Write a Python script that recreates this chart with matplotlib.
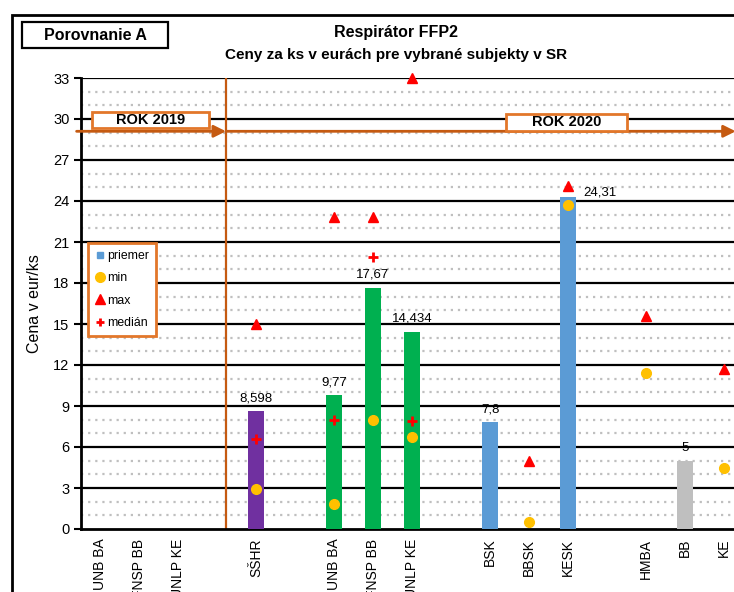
import numpy as np
import matplotlib.pyplot as plt
from matplotlib.patches import Rectangle
from matplotlib.lines import Line2D

plt.rcParams['font.family'] = ['Liberation Sans', 'DejaVu Sans']

categories = ["UNB BA", "FNSP BB", "UNLP KE", "", "SŠHR", "", "UNB BA", "FNSP BB", "UNLP KE", "",
              "BSK", "BBSK", "KESK", "", "HMBA", "BB", "KE"]
nan = np.nan
priemer = [nan, nan, nan, nan, 8.598, nan, 9.77, 17.67, 14.434, nan, 7.8, nan, 24.31, nan, nan, 5, nan]
minimum = [nan, nan, nan, nan, 2.9, nan, 1.8, 8.0, 6.7, nan, nan, 0.5, 23.7, nan, 11.4, nan, 4.5]
maximum = [nan, nan, nan, nan, 15.0, nan, 22.8, 22.8, 33.0, nan, nan, 5.0, 25.1, nan, 15.6, nan, 11.7]
median = [nan, nan, nan, nan, 6.6, nan, 8.0, 19.9, 7.9, nan, nan, nan, nan, nan, nan, nan, nan]
bar_colors = ["#5B9BD5"] * 4 + ["#7030A0"] + ["#5B9BD5"] + ["#00B050"] * 3 + ["#5B9BD5"] * 6 + ["#BFBFBF", "#5B9BD5"]

orange = "#C55A11"
orange_box = "#E2772A"

fig = plt.figure(figsize=(7.34, 5.92), dpi=100)
ax = fig.add_axes([80.5 / 734, 63 / 592, 702 / 734, 451 / 592])
x = np.arange(len(categories))

# grid
for yv in range(1, 34):
    if yv % 3 == 0:
        ax.axhline(yv, color="black", lw=1.6, zorder=1)
    else:
        ax.axhline(yv, color="#BFBFBF", lw=1.6, ls=(0, (1, 2.2)), zorder=1)

vals = np.array(priemer, dtype=float)
ax.bar(x, np.nan_to_num(vals), width=0.42, color=bar_colors, zorder=3)
for i, v in enumerate(vals):
    if np.isnan(v):
        continue
    lab = f"{v:g}".replace(".", ",")
    if categories[i] == "KESK":
        ax.text(i + 0.38, v + 0.3, lab, ha="left", va="center", fontsize=9.5, zorder=5)
    else:
        ax.annotate(lab, (i, v), xytext=(0, 5), textcoords="offset points",
                    ha="center", va="bottom", fontsize=9.5, zorder=5)

ax.plot(x, minimum, "o", color="#FFC000", ms=7, zorder=4, clip_on=False)
ax.plot(x, maximum, "^", color="#FF0000", ms=7, zorder=4, clip_on=False)
ax.plot(x, median, "+", color="#FF0000", ms=7, mew=2, zorder=4)

ax.set_xlim(-0.5, 17.5)
ax.set_ylim(0, 33)
ax.set_yticks(range(0, 34, 3))
ax.set_xticks(x)
ax.set_xticklabels(categories, rotation=90, fontsize=10)
ax.tick_params(axis="x", length=0, pad=7)
ax.tick_params(axis="y", length=5, width=1.5, labelsize=10.5, pad=3)
for s in ["top", "right"]:
    ax.spines[s].set_visible(False)
ax.spines["left"].set_linewidth(2)
ax.spines["bottom"].set_linewidth(2)
ax.set_ylabel("Cena v eur/ks", fontsize=11.5, labelpad=8)

# year separator and arrows
ax.plot([3.23, 3.23], [0, 33], color=orange, lw=1.6, zorder=2)
ax.annotate("", xy=(3.23, 29.1), xytext=(-0.6, 29.1),
            arrowprops=dict(arrowstyle="-|>", color=orange, lw=2, mutation_scale=18,
                            shrinkA=0, shrinkB=0), annotation_clip=False, zorder=6)
ax.annotate("", xy=(16.3, 29.1), xytext=(3.23, 29.1),
            arrowprops=dict(arrowstyle="-|>", color=orange, lw=2, mutation_scale=18,
                            shrinkA=0, shrinkB=0), annotation_clip=False, zorder=6)
ax.add_patch(Rectangle((-0.2, 29.35), 3.0, 1.15, fc="white", ec=orange_box, lw=2, zorder=7, clip_on=False))
ax.text(1.3, 29.92, "ROK 2019", ha="center", va="center", fontsize=10.5, fontweight="bold", zorder=8)
ax.add_patch(Rectangle((10.41, 29.15), 3.1, 1.25, fc="white", ec=orange_box, lw=2, zorder=7))
ax.text(11.96, 29.77, "ROK 2020", ha="center", va="center", fontsize=10.5, fontweight="bold", zorder=8)

handles = [
    Line2D([], [], ls="", marker="s", color="#5B9BD5", ms=5),
    Line2D([], [], ls="", marker="o", color="#FFC000", ms=7),
    Line2D([], [], ls="", marker="^", color="#FF0000", ms=7),
    Line2D([], [], ls="", marker="+", color="#FF0000", ms=6, mew=2),
]
leg = ax.legend(handles, ["priemer", "min", "max", "medián"], loc="upper left",
                bbox_to_anchor=(0.0107, 0.634), borderaxespad=0, fontsize=8.8,
                handlelength=0.8, handletextpad=0.2, labelspacing=0.85,
                fancybox=False, framealpha=1, edgecolor=orange_box, borderpad=0.55)
leg.get_frame().set_linewidth(2)
leg.set_zorder(9)

# outer frame and header
fig.patches.append(Rectangle((12 / 734, -0.1), 1.2, (592 - 15) / 592 + 0.1, transform=fig.transFigure,
                             fill=False, ec="black", lw=2))
fig.patches.append(Rectangle((22 / 734, 1 - 48 / 592), 146 / 734, 26 / 592, transform=fig.transFigure,
                             fill=False, ec="black", lw=1.6))
fig.text(95 / 734, 1 - 35 / 592, "Porovnanie A", ha="center", va="center", fontsize=11.5, fontweight="bold")
fig.text(396 / 734, 1 - 32 / 592, "Respirátor FFP2", ha="center", va="center", fontsize=11.5, fontweight="bold")
fig.text(396 / 734, 1 - 55 / 592, "Ceny za ks v eurách pre vybrané subjekty v SR", ha="center", va="center",
         fontsize=11, fontweight="bold")

fig.savefig("out.png", dpi=100)
